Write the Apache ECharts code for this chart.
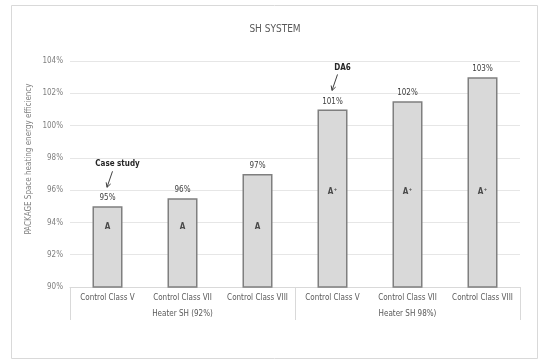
<!DOCTYPE html>
<html>
<head>
<meta charset="utf-8">
<script src="https://cdn.jsdelivr.net/npm/echarts@6/dist/echarts.min.js"></script>
<style>html,body{margin:0;padding:0;background:#fff}#c{width:550px;height:364px}</style>
</head>
<body>
<div id="c"></div>
<script>
const categories = ['Control Class V','Control Class VII','Control Class VIII','Control Class V','Control Class VII','Control Class VIII'];
const groups = ['Heater SH (92%)','Heater SH 98%)'];
const values = [95, 95.5, 97, 101, 101.5, 103];
const grades = ['A','A','A','A\u207A','A\u207A','A\u207A'];
const yTicks = [90, 92, 94, 96, 98, 100, 102, 104];
const annotations = [{index:0, text:'Case study'}, {index:3, text:'DA6'}];

const FONT = "'Liberation Sans Narrow','DejaVu Sans Condensed',sans-serif";
const gradeLevel = {'A':93.7,'A\u207A':95.9};

const chart = echarts.init(document.getElementById('c'), null, {renderer:'canvas'});
chart.setOption({
  animation:false,
  textStyle:{fontFamily:FONT},
  title:{text:'SH SYSTEM', left:270, top:19, textAlign:'center',
    textStyle:{fontFamily:FONT, fontSize:10, fontWeight:'normal', color:'#595959'}},
  grid:{left:70, right:30, top:61, bottom:77},
  xAxis:[{
    type:'category', data:categories, position:'bottom',
    axisLine:{lineStyle:{color:'#d9d9d9'}},
    axisTick:{show:false},
    axisLabel:{color:'#595959', fontSize:8, margin:7, fontFamily:FONT, interval:0}
  },{
    type:'category', data:groups, position:'bottom',
    axisLine:{show:false},
    axisTick:{show:true, length:33, lineStyle:{color:'#d9d9d9'}},
    axisLabel:{color:'#595959', fontSize:8, margin:23, fontFamily:FONT}
  }],
  yAxis:{
    type:'value', min:yTicks[0], max:yTicks[yTicks.length-1], interval:2,
    axisLine:{show:false}, axisTick:{show:false},
    axisLabel:{formatter:'{value}%', color:'#7f7f7f', fontSize:8, margin:7, fontFamily:FONT},
    splitLine:{lineStyle:{color:'#e6e6e6'}}
  },
  series:[{
    type:'bar', data:values, barWidth:30, xAxisIndex:0, z:2,
    itemStyle:{color:'#d9d9d9', borderColor:'#7f7f7f', borderWidth:1.5},
    label:{show:true, position:'top', distance:4, color:'#404040', fontSize:8, fontFamily:FONT,
      formatter:p=>Math.round(p.value)+'%'}
  },{
    type:'scatter', xAxisIndex:0, symbolSize:2, silent:true, z:5,
    itemStyle:{color:'transparent'},
    labelLayout:{hideOverlap:false},
    data:grades.map((g,i)=>[i, gradeLevel[g]]),
    label:{show:true, position:'inside', color:'#262626', fontSize:8, fontWeight:'bold', fontFamily:FONT,
      formatter:p=>grades[p.dataIndex]}
  }]
});

const g = [
  {type:'rect', shape:{x:11.5, y:5.5, width:526, height:353}, style:{fill:'none', stroke:'#d9d9d9', lineWidth:1}, z:-1},
  {type:'text', x:29, y:159, rotation:Math.PI/2,
    style:{text:'PACKAGE Space heating energy efficiency', fill:'#7f7f7f', font:'8px '+FONT, align:'center', verticalAlign:'middle'}}
];
annotations.forEach(a=>{
  const p = chart.convertToPixel({seriesIndex:0}, [a.index, values[a.index]]);
  const tx = p[0]+10, ty = p[1]-42;
  const sx = p[0]+5, sy = p[1]-35, ex = p[0]-0.5, ey = p[1]-19;
  g.push({type:'text', x:tx, y:ty, style:{text:a.text, fill:'#262626', font:'bold 8px '+FONT, align:'center', verticalAlign:'middle'}});
  g.push({type:'line', shape:{x1:sx,y1:sy,x2:ex,y2:ey}, style:{stroke:'#404040', lineWidth:1}});
  const ang = Math.atan2(ey-sy, ex-sx);
  [0.5,-0.5].forEach(d=>{
    g.push({type:'line', shape:{x1:ex,y1:ey,x2:ex-5*Math.cos(ang+d),y2:ey-5*Math.sin(ang+d)}, style:{stroke:'#404040', lineWidth:1}});
  });
});
chart.setOption({graphic:g});
</script>
</body>
</html>
